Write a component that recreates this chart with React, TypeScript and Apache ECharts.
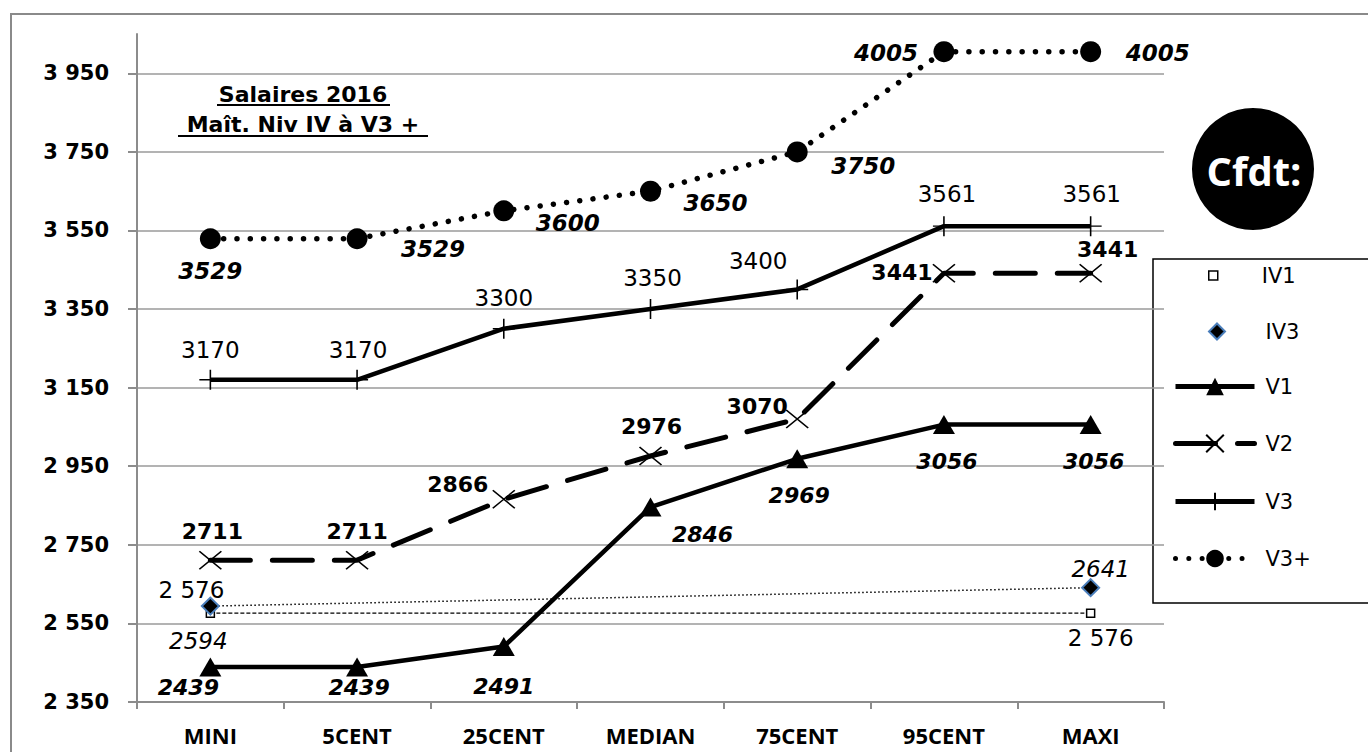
import React, { useEffect, useRef } from "react";
import * as echarts from "echarts";

// ---------- data ----------
const categories = ["MINI", "5CENT", "25CENT", "MEDIAN", "75CENT", "95CENT", "MAXI"];
const iv1 = [2576, null, null, null, null, null, 2576];
const iv3 = [2594, null, null, null, null, null, 2641];
const v1 = [2439, 2439, 2491, 2846, 2969, 3056, 3056];
const v2 = [2711, 2711, 2866, 2976, 3070, 3441, 3441];
const v3 = [3170, 3170, 3300, 3350, 3400, 3561, 3561];
const v3plus = [3529, 3529, 3600, 3650, 3750, 4005, 4005];
const yTicks = [2350, 2550, 2750, 2950, 3150, 3350, 3550, 3750, 3950];
const yMin = 2350;
const yMax = 4050;
const titleLines = ["Salaires 2016", "Maît. Niv IV à V3 +"];
const logoText = "Cfdt:";

// ---------- label placement (px offsets from each point) ----------
const offIV1 = [[-19, -23], null, null, null, null, null, [10, 25]];
const offIV3 = [[-12, 35], null, null, null, null, null, [10, -19]];
const offV1 = [[-22, 20], [2, 20], [0, 40], [52, 27], [2, 37], [3, 37], [3, 37]];
const offV2 = [[2, -29], [0, -29], [-46, -15], [1, -30], [-40, -13], [-42, -1], [17, -24]];
const offV3 = [[0, -30], [1, -30], [0, -31], [2, -31], [-39, -28], [3, -32], [1, -32]];
const offV3p = [[0, 32], [76, 10], [64, 12], [65, 12], [66, 14], [-58, 1], [67, 1]];

const fmtSpace = (v: number) => String(v).replace(/\B(?=(\d{3})+(?!\d))/g, " ");

const FONT = "DejaVu Sans";

function buildData(values: (number | null)[], offsets: any[]) {
  return values.map((v, i) =>
    v == null ? null : { value: v, label: { offset: offsets[i] || [0, 0] } }
  );
}

function labelStyle(extra: any) {
  return {
    show: true,
    position: "inside",
    align: "center",
    verticalAlign: "middle",
    color: "#000",
    textBorderWidth: 0,
    fontFamily: FONT,
    fontSize: 22,
    ...extra,
  };
}

export default function App() {
  const ref = useRef<HTMLDivElement>(null);

  useEffect(() => {
    if (!ref.current) return;
    const chart = echarts.init(ref.current, null, { renderer: "svg" });

    const legendBase = {
      orient: "vertical",
      left: 1173,
      padding: 0,
      itemWidth: 79,
      selectedMode: false,
      textStyle: { fontFamily: FONT, fontSize: 21, color: "#000", padding: [0, 0, 0, 6] },
    };

    const option: any = {
      animation: false,
      backgroundColor: "#fff",
      grid: { left: 137, right: 204, top: 34, bottom: 50, containLabel: false },
      xAxis: {
        type: "category",
        data: categories,
        boundaryGap: true,
        axisLine: { show: true, lineStyle: { color: "#8c8c8c", width: 2 } },
        axisTick: { show: true, length: 7, lineStyle: { color: "#8c8c8c", width: 2 } },
        axisLabel: {
          margin: 22,
          fontFamily: "Open Sans",
          fontWeight: "bold",
          fontSize: 22,
          color: "#000",
        },
        splitLine: { show: false },
      },
      yAxis: {
        type: "value",
        min: yMin,
        max: yMax,
        axisLine: { show: true, lineStyle: { color: "#8c8c8c", width: 2 } },
        axisTick: {
          show: true,
          length: 9,
          customValues: yTicks,
          lineStyle: { color: "#8c8c8c", width: 2 },
        },
        axisLabel: {
          customValues: yTicks,
          formatter: (v: number) => fmtSpace(v),
          margin: 28,
          fontFamily: FONT,
          fontWeight: "bold",
          fontSize: 21,
          color: "#000",
        },
        splitLine: { show: true, lineStyle: { color: "#9a9a9a", width: 1.5 } },
      },
      legend: [
        {
          ...legendBase,
          left: 1208,
          top: 265,
          itemHeight: 9,
          textStyle: { ...legendBase.textStyle, padding: [0, 0, 0, 4] },
          data: [
            {
              name: "IV1",
              icon: "path://M0,0H10V10H0Z",
              itemStyle: { color: "#fff", borderColor: "#000", borderWidth: 1.5 },
            },
          ],
        },
        {
          ...legendBase,
          left: 1208,
          top: 321,
          itemHeight: 16,
          textStyle: { ...legendBase.textStyle, padding: [0, 0, 0, 4] },
          data: [
            {
              name: "IV3",
              icon: "path://M5,0L10,5L5,10L0,5Z",
              itemStyle: { color: "#000", borderColor: "#4a7ebb", borderWidth: 2 },
            },
          ],
        },
        { ...legendBase, top: 376, itemHeight: 22, lineStyle: { width: 5 }, data: ["V1"] },
        { ...legendBase, top: 433, itemHeight: 22, lineStyle: { width: 5 }, data: ["V2"] },
        { ...legendBase, top: 491, itemHeight: 22, lineStyle: { width: 5 }, data: ["V3"] },
        { ...legendBase, top: 548, itemHeight: 22, lineStyle: { width: 5 }, data: ["V3+"] },
      ],
      series: [
        {
          name: "IV1",
          type: "line",
          data: buildData(iv1, offIV1),
          connectNulls: true,
          symbol: "rect",
          symbolSize: 8,
          itemStyle: { color: "#fff", borderColor: "#000", borderWidth: 1.5 },
          lineStyle: { color: "#000", width: 1.3, type: [4, 2] },
          label: labelStyle({ fontSize: 23, formatter: (p: any) => fmtSpace(p.value) }),
          z: 3,
        },
        {
          name: "IV3",
          type: "line",
          data: buildData(iv3, offIV3),
          connectNulls: true,
          symbol: "diamond",
          symbolSize: 17,
          itemStyle: { color: "#000", borderColor: "#4a7ebb", borderWidth: 2 },
          lineStyle: { color: "#000", width: 1.5, type: [1.5, 2.5] },
          label: labelStyle({ fontSize: 23, fontStyle: "italic" }),
          z: 4,
        },
        {
          name: "V1",
          type: "line",
          data: buildData(v1, offV1),
          symbol: "triangle",
          symbolSize: [22, 19],
          itemStyle: { color: "#000" },
          lineStyle: { color: "#000", width: 4.5 },
          label: labelStyle({ fontSize: 22, fontStyle: "italic", fontWeight: "bold" }),
          z: 5,
        },
        {
          name: "V2",
          type: "line",
          data: buildData(v2, offV2),
          symbol: "path://M0,0L10,10M10,0L0,10",
          symbolSize: [22, 18],
          itemStyle: { color: "#000", borderColor: "#000", borderWidth: 1.5 },
          lineStyle: { color: "#000", width: 5, type: [40, 22], cap: "round" },
          label: labelStyle({ fontSize: 22, fontWeight: "bold" }),
          z: 5,
        },
        {
          name: "V3",
          type: "line",
          data: buildData(v3, offV3),
          symbol: "path://M5,0V10M0,5H10",
          symbolSize: [22, 20],
          itemStyle: { color: "#000", borderColor: "#000", borderWidth: 1.5 },
          lineStyle: { color: "#000", width: 4.5 },
          label: labelStyle({ fontSize: 23 }),
          z: 5,
        },
        {
          name: "V3+",
          type: "line",
          data: buildData(v3plus, offV3p),
          symbol: "circle",
          symbolSize: 21,
          itemStyle: { color: "#000" },
          lineStyle: { color: "#000", width: 5.5, type: [0.01, 13.3], cap: "round" },
          label: labelStyle({ fontSize: 23, fontStyle: "italic", fontWeight: "bold" }),
          z: 5,
        },
      ],
      graphic: [
        {
          type: "rect",
          shape: { x: 11, y: 14, width: 1420, height: 820 },
          style: { fill: "none", stroke: "#8a8a8a", lineWidth: 2 },
          silent: true,
          z: -1,
        },
        {
          type: "rect",
          shape: { x: 1153, y: 259, width: 300, height: 344 },
          style: { fill: "none", stroke: "#000", lineWidth: 1.5 },
          silent: true,
        },
        {
          type: "text",
          style: {
            text: titleLines[0],
            x: 303,
            y: 94,
            align: "center",
            verticalAlign: "middle",
            fontFamily: FONT,
            fontWeight: "bold",
            fontSize: 22,
            fill: "#000",
          },
        },
        {
          type: "line",
          shape: { x1: 217, y1: 105, x2: 390, y2: 105 },
          style: { stroke: "#000", lineWidth: 2 },
        },
        {
          type: "text",
          style: {
            text: titleLines[1],
            x: 303,
            y: 124,
            align: "center",
            verticalAlign: "middle",
            fontFamily: FONT,
            fontWeight: "bold",
            fontSize: 22,
            fill: "#000",
          },
        },
        {
          type: "line",
          shape: { x1: 178, y1: 136, x2: 428, y2: 136 },
          style: { stroke: "#000", lineWidth: 2 },
        },
        {
          type: "circle",
          shape: { cx: 1253, cy: 169, r: 61 },
          style: { fill: "#000" },
        },
        {
          type: "text",
          style: {
            text: logoText,
            x: 1254,
            y: 170,
            align: "center",
            verticalAlign: "middle",
            fontFamily: "Open Sans",
            fontWeight: "bold",
            fontSize: 40,
            fill: "#fff",
          },
        },
      ],
    };

    chart.setOption(option);
    return () => chart.dispose();
  }, []);

  return (
    <div
      ref={ref}
      style={{ position: "absolute", left: 0, top: 0, width: 1368, height: 752, background: "#fff" }}
    />
  );
}
